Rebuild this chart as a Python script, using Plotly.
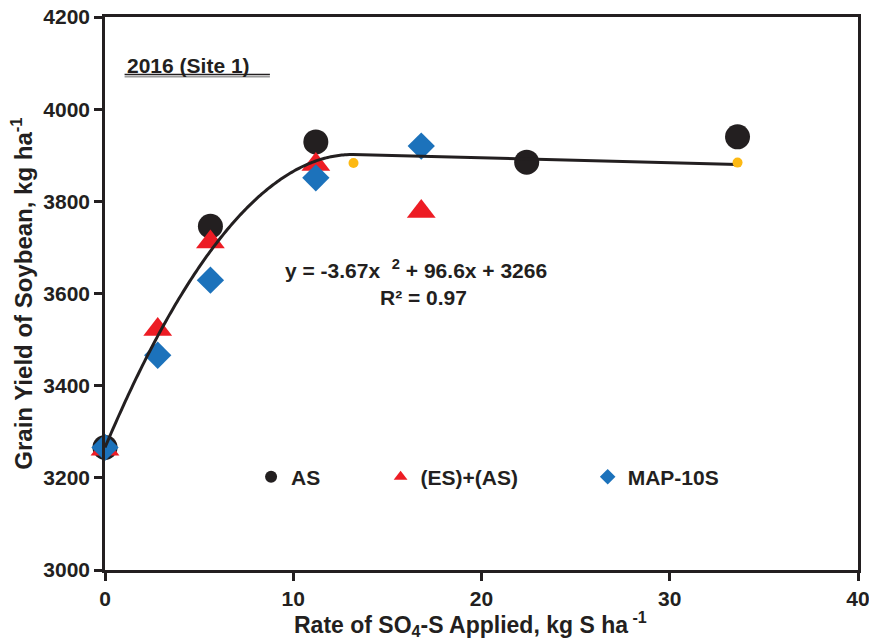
import numpy as np
import plotly.graph_objects as go

# Sulfate-S rates (kg S/ha) and soybean grain yields (kg/ha), 2016 Site 1
as_rate = [0, 5.6, 11.2, 22.4, 33.6]
as_yield = [3266, 3746, 3929, 3885, 3940]

es_rate = [0, 2.8, 5.6, 11.2, 16.8]
es_yield = [3262, 3522, 3712, 3880, 3778]

map_rate = [0, 2.8, 5.6, 11.2, 16.8]
map_yield = [3266, 3466, 3629, 3851, 3920]

# Quadratic fit y = a*x^2 + b*x + c, followed by a plateau
fit_a, fit_b, fit_c = -3.67, 96.6, 3266
plateau_end_rate = 33.6
plateau_end_yield = 3880

# Predicted yield points shown along the fitted line
pred_rate = [13.2, 33.6]
pred_yield = [3883, 3884]

x_ticks = [0, 10, 20, 30, 40]
y_ticks = [3000, 3200, 3400, 3600, 3800, 4000, 4200]

BLACK = "#231f20"
RED = "#ed1c24"
BLUE = "#1c72bb"
GOLD = "#fdb913"
FONT = "Liberation Sans, Arial, sans-serif"

# Curve: quadratic rising limb up to its vertex, then the plateau
x_vertex = -fit_b / (2 * fit_a)
x_rise = np.linspace(0, x_vertex, 80)
y_rise = fit_a * x_rise ** 2 + fit_b * x_rise + fit_c
curve_x = list(x_rise) + [plateau_end_rate]
curve_y = list(y_rise) + [plateau_end_yield]

fig = go.Figure()

fig.add_trace(go.Scatter(
    x=as_rate, y=as_yield, mode="markers", name="AS",
    marker=dict(symbol="circle", size=25, color=BLACK),
    cliponaxis=False, legend="legend",
))
fig.add_trace(go.Scatter(
    x=es_rate, y=es_yield, mode="markers", name="(ES)+(AS)",
    marker=dict(symbol="triangle-up", size=25, color=RED),
    cliponaxis=False, legend="legend2",
))
fig.add_trace(go.Scatter(
    x=map_rate, y=map_yield, mode="markers", name="MAP-10S",
    marker=dict(symbol="diamond", size=21, color=BLUE),
    cliponaxis=False, legend="legend3",
))
fig.add_trace(go.Scatter(
    x=curve_x, y=curve_y, mode="lines", showlegend=False,
    line=dict(color=BLACK, width=3, shape="spline", smoothing=0.4),
    cliponaxis=False, hoverinfo="skip",
))
fig.add_trace(go.Scatter(
    x=pred_rate, y=pred_yield, mode="markers", showlegend=False,
    marker=dict(symbol="circle", size=10, color=GOLD),
    cliponaxis=False,
))

BOLD21 = dict(family=FONT, size=21, color=BLACK, weight="bold")
BOLD23 = dict(family=FONT, size=23, color=BLACK, weight="bold")
BOLD24 = dict(family=FONT, size=24, color=BLACK, weight="bold")

legend_common = dict(
    orientation="h", yanchor="middle", xanchor="left",
    bgcolor="rgba(0,0,0,0)", itemsizing="constant",
    font=BOLD21, itemclick=False, itemdoubleclick=False,
)

axis_common = dict(
    showline=True, linewidth=2.5, linecolor=BLACK, mirror=True,
    ticks="outside", ticklen=8, tickwidth=2.5, tickcolor=BLACK,
    showgrid=False, zeroline=False, automargin=False,
    ticklabeloverflow="allow", tickfont=BOLD21,
)

fig.update_layout(
    width=869, height=640,
    margin=dict(l=105, r=11, t=17, b=70),
    paper_bgcolor="white", plot_bgcolor="white",
    font=dict(family=FONT, color=BLACK),
    xaxis=dict(
        range=[0, 40], tickvals=x_ticks, ticktext=[str(v) for v in x_ticks],
        **axis_common,
    ),
    yaxis=dict(
        range=[3000, 4200], tickvals=y_ticks, ticktext=[str(v) for v in y_ticks],
        title=dict(
            text="Grain Yield of Soybean, kg ha<sup>-1</sup>",
            font=BOLD24, standoff=4,
        ),
        **axis_common,
    ),
    legend=dict(x=0.194, y=0.168, **legend_common),
    legend2=dict(x=0.366, y=0.168, **legend_common),
    legend3=dict(x=0.641, y=0.168, **legend_common),
    showlegend=True,
)

# X-axis title placed below the tick labels
fig.add_annotation(
    xref="paper", yref="paper", x=0.486, y=-0.097, xanchor="center", yanchor="middle",
    text="Rate of SO<sub>4</sub>-S Applied, kg S ha<sup> -1</sup>", showarrow=False,
    font=BOLD23,
)

# Site label with its underline
fig.add_annotation(
    xref="paper", yref="paper", x=0.026, y=0.912, xanchor="left", yanchor="middle",
    text="2016 (Site 1)", showarrow=False, font=BOLD21,
)
fig.add_shape(
    type="line", xref="paper", yref="paper", x0=0.026, x1=0.219, y0=0.896, y1=0.896,
    line=dict(color=BLACK, width=1.5),
)
fig.add_shape(
    type="line", xref="paper", yref="paper", x0=0.026, x1=0.219, y0=0.892, y1=0.892,
    line=dict(color="#9a9a9a", width=1.5),
)

# Regression equation and fit statistic
fig.add_annotation(
    xref="paper", yref="paper", x=0.236, y=0.545, xanchor="left", yanchor="middle",
    text=f"y = {fit_a}x  <sup>2</sup> + {fit_b}x + {fit_c}", showarrow=False,
    font=BOLD21,
)
fig.add_annotation(
    xref="paper", yref="paper", x=0.362, y=0.492, xanchor="left", yanchor="middle",
    text="R² = 0.97", showarrow=False, font=BOLD21,
)

fig.write_html("out.html")
